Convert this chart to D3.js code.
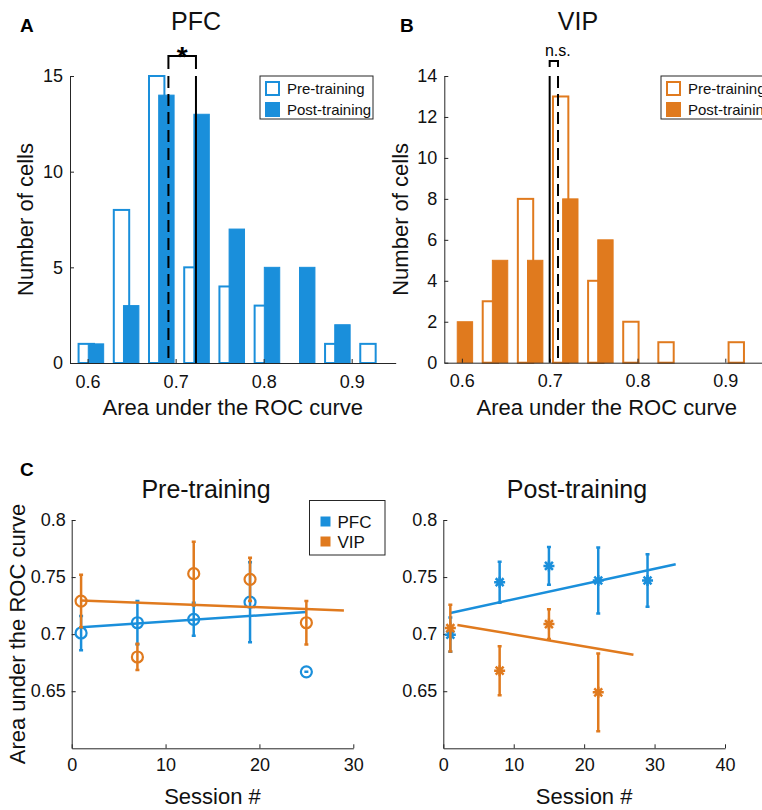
<!DOCTYPE html>
<html>
<head>
<meta charset="utf-8">
<script src="https://cdn.jsdelivr.net/npm/d3@7"></script>
<style>
  body { margin: 0; background: #fff; }
  svg { font-family: "Liberation Sans", Arial, Helvetica, sans-serif; }
</style>
</head>
<body>
<svg id="fig" width="762" height="810"></svg>
<script>
// ---- data ----
// histogram bin centres (AUC) and counts per bin
const pfcBins = [0.604, 0.644, 0.684, 0.724, 0.764, 0.804, 0.844, 0.884, 0.924];
const vipBins = [0.598, 0.638, 0.678, 0.718, 0.758, 0.798, 0.838, 0.878, 0.918];
const pfcPre  = [1, 8, 15, 5, 4, 3, 0, 1, 1];
const pfcPost = [1, 3, 14, 13, 7, 5, 5, 2, 0];
const vipPre  = [0, 3, 8, 13, 4, 2, 1, 0, 1];
const vipPost = [2, 5, 5, 8, 6, 0, 0, 0, 0];
// medians of the two distributions
const pfcMedians = [0.6918, 0.7231];   // pre, post
const vipMedians = [0.7095, 0.7000];   // pre, post
const aucTicks = [0.6, 0.7, 0.8, 0.9];
const pfcCountTicks = [0, 5, 10, 15];
const vipCountTicks = [0, 2, 4, 6, 8, 10, 12, 14];
const histLegend = ["Pre-training", "Post-training"];

// session data (mean AUC +- error)
const preSessions = [1, 7, 13, 19, 25];
const prePfcMean = [0.701, 0.710, 0.713, 0.728, 0.667];
const prePfcErr  = [0.015, 0.019, 0.0145, 0.035, 0];
const preVipMean = [0.729, 0.680, 0.753, 0.748, 0.710];
const preVipErr  = [0.023, 0.0115, 0.028, 0.019, 0.019];
const prePfcFit = [[1, 0.706], [25, 0.7193]];
const preVipFit = [[1, 0.7294], [29, 0.7207]];

const postPfcSessions = [1, 8, 15, 22, 29];
const postPfcMean = [0.6995, 0.7455, 0.7598, 0.747, 0.747];
const postPfcErr  = [0.015, 0.018, 0.0165, 0.029, 0.023];
const postVipSessions = [1, 8, 15, 22];
const postVipMean = [0.7053, 0.668, 0.7088, 0.649];
const postVipErr  = [0.0205, 0.0215, 0.013, 0.034];
const postPfcFit = [[1, 0.7186], [33, 0.7612]];
const postVipFit = [[2, 0.7081], [27, 0.6819]];

const aucAxisTicks = [0.65, 0.7, 0.75, 0.8];
const areaLegend = ["PFC", "VIP"];

const blue = "#1a8fdb", orange = "#e07a1e", ink = "#262626";
const svg = d3.select("#fig");
const fmt = d => String(+d.toFixed(2));

// matlab-ish axes: ticks pointing in, box off
function drawAxes(g, x, y, xTicks, yTicks, fontSize, padX, padY) {
  const xa = g.append("g").attr("transform", `translate(0,${y.range()[0]})`)
    .call(d3.axisBottom(x).tickValues(xTicks).tickFormat(fmt)
      .tickSizeInner(-4).tickSizeOuter(0).tickPadding(padX));
  const ya = g.append("g").attr("transform", `translate(${x.range()[0]},0)`)
    .call(d3.axisLeft(y).tickValues(yTicks).tickFormat(fmt)
      .tickSizeInner(-4).tickSizeOuter(0).tickPadding(padY));
  [xa, ya].forEach(a => {
    a.selectAll("path, line").attr("stroke", ink).attr("stroke-width", 1);
    a.selectAll("text").attr("font-size", fontSize).attr("fill", "#111")
      .attr("font-family", "Liberation Sans, Arial, sans-serif");
  });
}

function histPanel(o) {
  const x = d3.scaleLinear().domain([0.58, 0.95]).range(o.xRange);
  const y = d3.scaleLinear().domain([0, o.yMax]).range([o.base, o.top]);
  const g = svg.append("g");
  const half = 0.00875, shift = 0.0055;

  const preData = o.bins.map((c, i) => ({ c: c - shift, n: o.pre[i] })).filter(d => d.n > 0);
  const postData = o.bins.map((c, i) => ({ c: c + shift, n: o.post[i] })).filter(d => d.n > 0);

  g.selectAll("rect.pre").data(preData).join("rect").attr("class", "pre")
    .attr("x", d => x(d.c - half)).attr("width", d => x(d.c + half) - x(d.c - half))
    .attr("y", d => y(d.n)).attr("height", d => y(0) - y(d.n))
    .attr("fill", "#fff").attr("stroke", o.color).attr("stroke-width", 2);
  g.selectAll("rect.post").data(postData).join("rect").attr("class", "post")
    .attr("x", d => x(d.c - half)).attr("width", d => x(d.c + half) - x(d.c - half))
    .attr("y", d => y(d.n)).attr("height", d => y(0) - y(d.n))
    .attr("fill", o.color).attr("stroke", o.color).attr("stroke-width", 1);

  drawAxes(g, x, y, aucTicks, o.yTicks, 18, 12, 7);

  // median lines, dashed = pre, solid = post
  g.selectAll("line.med").data(o.medians).join("line").attr("class", "med")
    .attr("x1", d => x(d)).attr("x2", d => x(d))
    .attr("y1", o.top).attr("y2", o.base)
    .attr("stroke", "#000").attr("stroke-width", 2)
    .attr("stroke-dasharray", (d, i) => i === 0 ? "12,6" : null);

  // bracket
  const bx = o.medians.map(x).sort((a, b) => a - b);
  g.append("path")
    .attr("d", `M${bx[0]},${o.brLeg}V${o.brTop}H${bx[1]}V${o.brLeg}`)
    .attr("fill", "none").attr("stroke", "#000").attr("stroke-width", 2);
  g.append("text").attr("x", (bx[0] + bx[1]) / 2 + o.sigDx).attr("y", o.sigY)
    .attr("text-anchor", "middle").attr("font-size", o.sigSize)
    .attr("font-weight", o.sigBold ? "bold" : "normal").text(o.sig);

  // titles / labels
  g.append("text").attr("x", (o.xRange[0] + 395.7 - 70) / 1 - (395.7 - 70) / 2 + 0).attr("y", 30)
    .attr("text-anchor", "middle").attr("font-size", 25).attr("fill", "#111").text(o.title)
    .attr("x", o.titleX);
  g.append("text").attr("x", o.letterX).attr("y", 32).attr("font-size", 19)
    .attr("font-weight", "bold").text(o.letter);
  g.append("text").attr("x", (x.range()[0] + x(0.95)) / 2).attr("y", 415)
    .attr("text-anchor", "middle").attr("font-size", 22).attr("fill", "#111")
    .text("Area under the ROC curve");
  g.append("text").attr("transform", `translate(${o.yLabelX},${(o.top + o.base) / 2}) rotate(-90)`)
    .attr("text-anchor", "middle").attr("font-size", 22).attr("fill", "#111")
    .text("Number of cells");

  // legend
  const lg = g.append("g").attr("transform", `translate(${o.legX},76)`);
  lg.append("rect").attr("width", 113).attr("height", 43)
    .attr("fill", "#fff").attr("stroke", ink).attr("stroke-width", 1);
  const items = lg.selectAll("g.item").data(histLegend).join("g")
    .attr("transform", (d, i) => `translate(5,${5 + i * 21})`);
  items.append("rect").attr("x", 1).attr("y", 1).attr("width", 13).attr("height", 13)
    .attr("fill", (d, i) => i === 0 ? "#fff" : o.color)
    .attr("stroke", o.color).attr("stroke-width", 2);
  items.append("text").attr("x", 22).attr("y", 12.5).attr("font-size", 15)
    .attr("fill", "#111").text(d => d);
}

histPanel({
  bins: pfcBins, pre: pfcPre, post: pfcPost, medians: pfcMedians, color: blue,
  xRange: [70, 395.7], yMax: 15, yTicks: pfcCountTicks, base: 363, top: 76,
  brTop: 56, brLeg: 69, sig: "*", sigY: 66, sigSize: 28, sigBold: true, sigDx: 0,
  title: "PFC", titleX: 196, letter: "A", letterX: 20, yLabelX: 33, legX: 260
});
histPanel({
  bins: vipBins, pre: vipPre, post: vipPost, medians: vipMedians, color: orange,
  xRange: [444.3, 769.2], yMax: 14, yTicks: vipCountTicks, base: 362.7, top: 76,
  brTop: 61, brLeg: 67, sig: "n.s.", sigY: 56, sigSize: 16, sigBold: false, sigDx: 4,
  title: "VIP", titleX: 578, letter: "B", letterX: 400, yLabelX: 408, legX: 661
});

// ---- session panels ----
function asterisk(sel, r) {
  const d = r * 0.72;
  sel.append("path")
    .attr("d", `M${-r},0H${r}M0,${-r}V${r}M${-d},${-d}L${d},${d}M${-d},${d}L${d},${-d}`);
}

function sessionPanel(o) {
  const x = d3.scaleLinear().domain([0, o.xMax]).range(o.xRange);
  const y = d3.scaleLinear().domain([0.6, 0.8]).range([748.3, 520]);
  const g = svg.append("g");
  drawAxes(g, x, y, o.xTicks, aucAxisTicks, 18, 10, 6);

  o.series.forEach(s => {
    const pts = s.x.map((v, i) => ({ x: v, m: s.mean[i], e: s.err[i] }));
    const eb = g.append("g").attr("stroke", s.color).attr("stroke-width", 2.5).attr("fill", "none");
    eb.selectAll("path").data(pts).join("path")
      .attr("d", d => {
        const cx = x(d.x), t = y(d.m + d.e), b = y(d.m - d.e);
        return `M${cx},${t}V${b}M${cx - 2},${t}H${cx + 2}M${cx - 2},${b}H${cx + 2}`;
      });
    g.append("path").datum(s.fit)
      .attr("d", d3.line().x(d => x(d[0])).y(d => y(d[1])))
      .attr("stroke", s.color).attr("stroke-width", 2.5).attr("fill", "none");
    const mk = g.append("g").attr("stroke", s.color).attr("fill", "none");
    const m = mk.selectAll("g").data(pts).join("g")
      .attr("transform", d => `translate(${x(d.x)},${y(d.m)})`);
    if (o.marker === "o") {
      m.append("circle").attr("r", 5.5).attr("stroke-width", 2.2).attr("fill", "none");
    } else {
      m.attr("stroke-width", 2.5).call(asterisk, 5.5);
    }
  });

  g.append("text").attr("x", o.titleX).attr("y", 498).attr("text-anchor", "middle")
    .attr("font-size", 25).attr("fill", "#111").text(o.title);
  g.append("text").attr("x", (o.xRange[0] + o.xRange[1]) / 2).attr("y", 804)
    .attr("text-anchor", "middle").attr("font-size", 22).attr("fill", "#111").text("Session #");
  return g;
}

const left = sessionPanel({
  xMax: 30, xRange: [71.7, 353.3], xTicks: [0, 10, 20, 30], marker: "o",
  title: "Pre-training", titleX: 206,
  series: [
    { x: preSessions, mean: prePfcMean, err: prePfcErr, fit: prePfcFit, color: blue },
    { x: preSessions, mean: preVipMean, err: preVipErr, fit: preVipFit, color: orange }
  ]
});
sessionPanel({
  xMax: 40, xRange: [443.3, 725], xTicks: [0, 10, 20, 30, 40], marker: "*",
  title: "Post-training", titleX: 577,
  series: [
    { x: postPfcSessions, mean: postPfcMean, err: postPfcErr, fit: postPfcFit, color: blue },
    { x: postVipSessions, mean: postVipMean, err: postVipErr, fit: postVipFit, color: orange }
  ]
});

left.append("text").attr("x", 20).attr("y", 476).attr("font-size", 19)
  .attr("font-weight", "bold").text("C");
left.append("text").attr("transform", `translate(25,634) rotate(-90)`)
  .attr("text-anchor", "middle").attr("font-size", 22).attr("fill", "#111")
  .text("Area under the ROC curve");

const cl = left.append("g").attr("transform", "translate(309.5,500.5)");
cl.append("rect").attr("width", 75.5).attr("height", 54.5)
  .attr("fill", "#fff").attr("stroke", ink).attr("stroke-width", 1);
const ci = cl.selectAll("g.item").data(areaLegend).join("g")
  .attr("transform", (d, i) => `translate(11,${16 + i * 20})`);
ci.append("rect").attr("width", 10).attr("height", 10)
  .attr("fill", (d, i) => i === 0 ? blue : orange);
ci.append("text").attr("x", 17).attr("y", 11).attr("font-size", 17)
  .attr("fill", "#111").text(d => d);
</script>
</body>
</html>
